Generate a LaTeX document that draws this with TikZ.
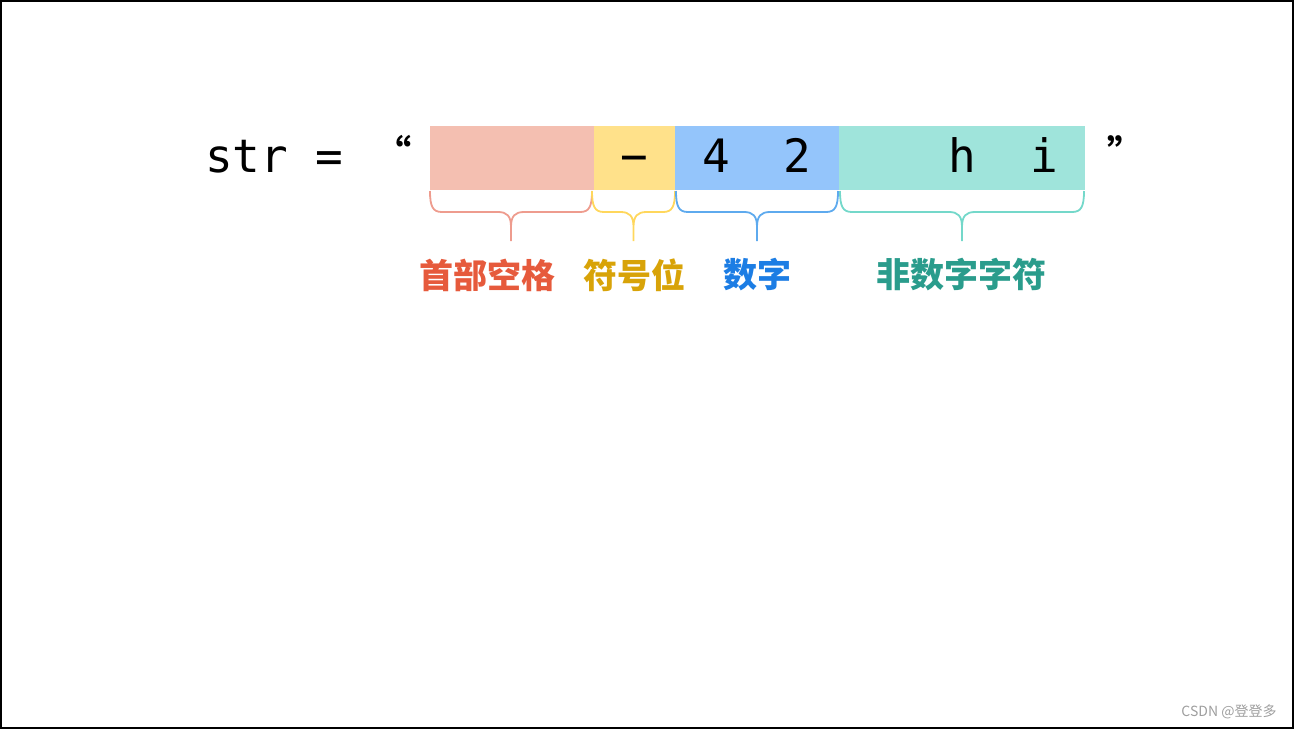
\documentclass[tikz,border=0pt]{standalone}
\usepackage{fontspec}
\newfontfamily\monofont{DejaVu Sans Mono}
\newfontfamily\cjkfont{Noto Sans CJK SC}

\definecolor{spacefill}{HTML}{F4BFB1}
\definecolor{signfill}{HTML}{FFE18A}
\definecolor{digitfill}{HTML}{94C5FB}
\definecolor{restfill}{HTML}{9FE4DB}
\definecolor{spacebrace}{HTML}{EE9C8E}
\definecolor{signbrace}{HTML}{FFD75C}
\definecolor{digitbrace}{HTML}{5EAAEE}
\definecolor{restbrace}{HTML}{74D8CA}
\definecolor{spacetext}{HTML}{E65A3C}
\definecolor{signtext}{HTML}{D8A308}
\definecolor{digittext}{HTML}{1C7DE4}
\definecolor{resttext}{HTML}{2A9C8C}

\begin{document}
\begin{tikzpicture}[x=1pt,y=-1pt,
  cell/.style={anchor=north west,inner sep=0,minimum height=64pt},
  ch/.style={anchor=base,inner sep=0,font=\monofont\fontsize{46}{46}\selectfont},
  quote/.style={inner sep=0,font=\cjkfont\bfseries\fontsize{36}{36}\selectfont},
  seglabel/.style={inner sep=0,font=\cjkfont\bfseries\fontsize{34}{34}\selectfont}]
\useasboundingbox (0,0) rectangle (1294,729);
\draw[line width=2pt] (1,1) rectangle (1293,728);

\node[ch,anchor=base west] (lhs) at (205,172) {str =};
\node[quote] (lquote) at (393,151) {“};
\node[quote] (rquote) at (1125,151) {”};

\node[cell,fill=spacefill,minimum width=164pt] (spaces) at (430,126) {};
\node[cell,fill=signfill,minimum width=81pt] (sign) at (594,126) {};
\node[cell,fill=digitfill,minimum width=164pt] (digits) at (675,126) {};
\node[cell,fill=restfill,minimum width=246pt] (rest) at (839,126) {};

\node[ch] (minus) at (634,172) {−};
\node[ch] (four) at (716,172) {4};
\node[ch] (two) at (797,172) {2};
\node[ch] (h) at (962,172) {h};
\node[ch] (i) at (1044,172) {i};

\foreach \a/\b/\c in {430/592/spacebrace,592/675/signbrace,676/838/digitbrace,840/1084/restbrace}{
  \pgfmathsetmacro\m{(\a+\b)/2}
  \draw[\c,line width=1.8pt]
    (\a,191) .. controls (\a,207) and (\a+3,212) .. (\a+12,212)
    -- (\m-13,212) .. controls (\m-4,212) and (\m,216) .. (\m,227) -- (\m,241)
    (\m,227) .. controls (\m,216) and (\m+4,212) .. (\m+13,212)
    -- (\b-12,212) .. controls (\b-3,212) and (\b,207) .. (\b,191);
}

\node[seglabel,text=spacetext] (spacelabel) at (487,275) {首部空格};
\node[seglabel,text=signtext] (signlabel) at (634,275) {符号位};
\node[seglabel,text=digittext] (digitlabel) at (757,275) {数字};
\node[seglabel,text=resttext] (restlabel) at (961,275) {非数字字符};

\node[inner sep=0,text=black!38,font=\cjkfont\fontsize{14}{14}\selectfont] (mark) at (1229,712) {CSDN @登登多};
\end{tikzpicture}
\end{document}
